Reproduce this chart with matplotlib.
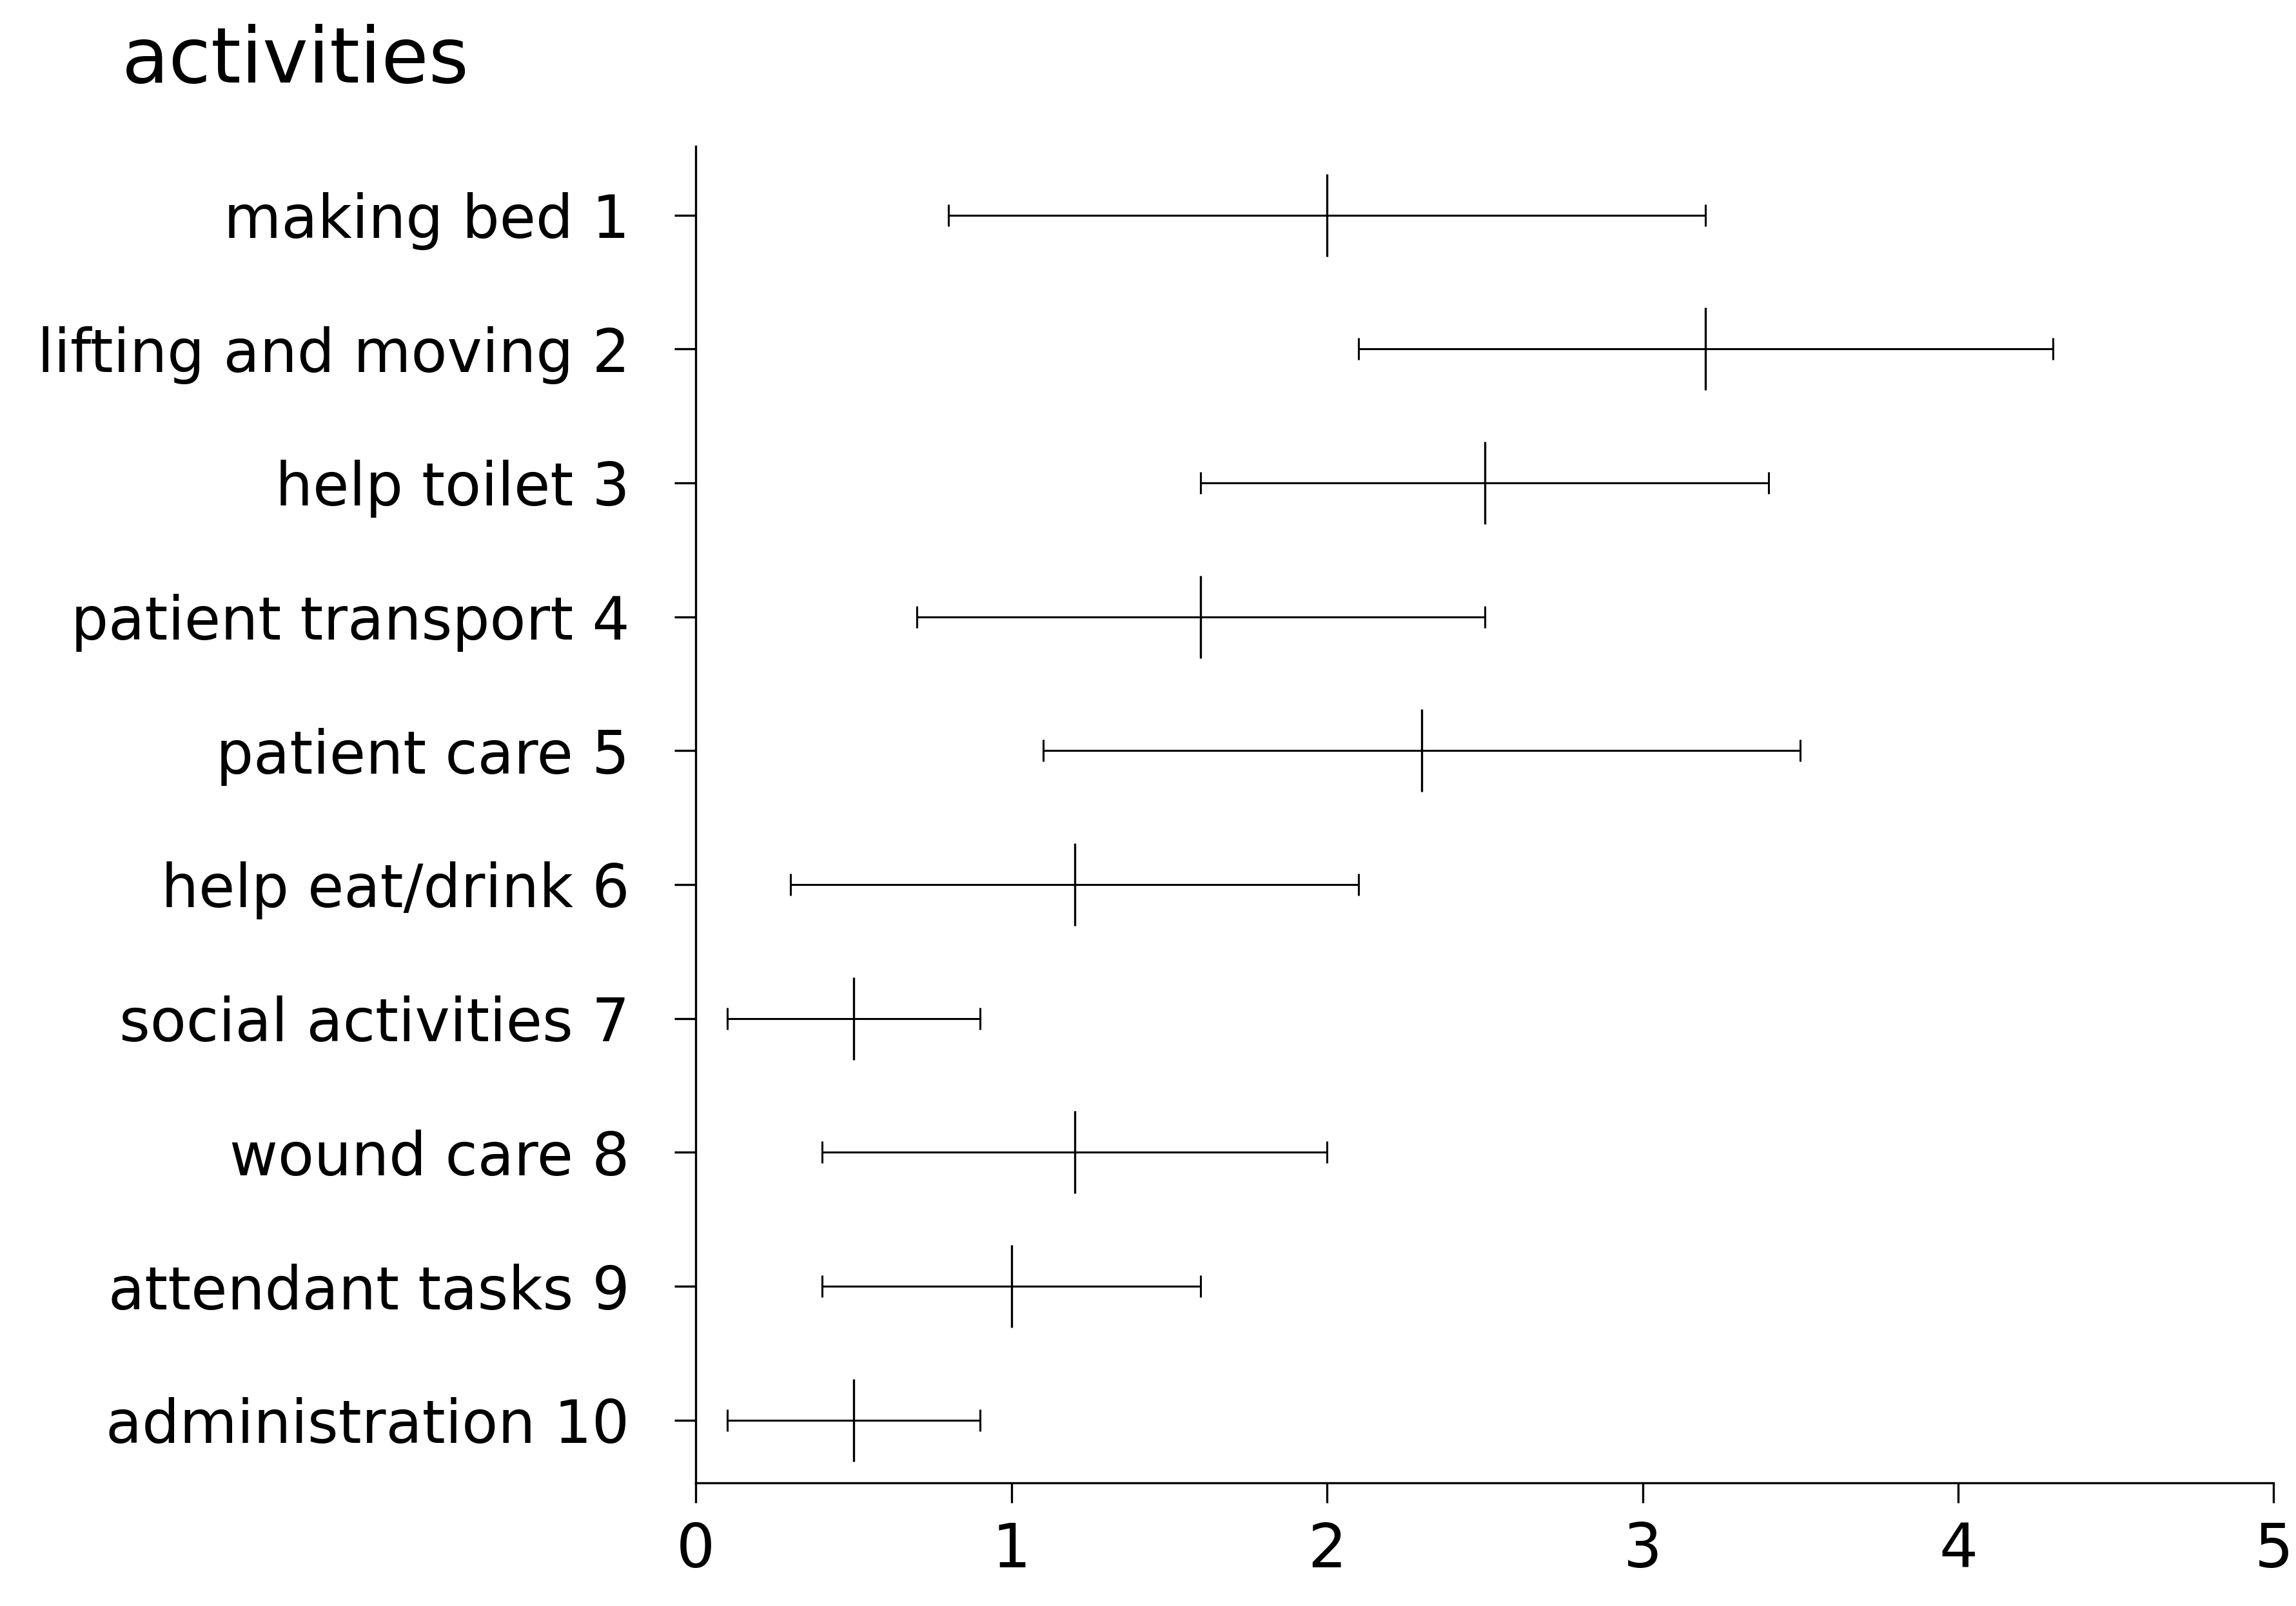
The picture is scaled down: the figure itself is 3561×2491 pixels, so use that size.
import numpy as np
from matplotlib import pyplot as plt

activities = ['making bed 1', 'lifting and moving 2', 'help toilet 3',
              'patient transport 4', 'patient care 5', 'help eat/drink 6',
              'social activities 7', 'wound care 8', 'attendant tasks 9',
              'administration 10']
means = [2.0, 3.2, 2.5, 1.6, 2.3, 1.2, 0.5, 1.2, 1.0, 0.5]
spread = [1.2, 1.1, 0.9, 0.9, 1.2, 0.9, 0.4, 0.8, 0.6, 0.4]
x_ticks = [0, 1, 2, 3, 4, 5]

plt.rcParams['font.family'] = ['DejaVu Sans']

fig = plt.figure(figsize=(35.62, 24.91), dpi=100)
ax = fig.add_axes([0.303, 0.0766, 0.687, 0.8324])

y = np.arange(1, len(activities) + 1)
ax.errorbar(means, y, xerr=spread, fmt='none', ecolor='black',
            elinewidth=2.2, capsize=12, capthick=2.2)
ax.plot(means, y, linestyle='none', marker='|', markersize=92,
        markeredgewidth=2.4, color='black')

ax.set_xlim(0, 5)
ax.set_ylim(10.47, 0.485)
ax.set_xticks(x_ticks)
ax.set_xticklabels([str(t) for t in x_ticks])
ax.set_yticks(y)
ax.set_yticklabels(activities)

for side in ['top', 'right']:
    ax.spines[side].set_visible(False)
for side in ['left', 'bottom']:
    ax.spines[side].set_linewidth(2.4)

ax.tick_params(axis='y', length=24, width=2.4, pad=50, labelsize=66)
ax.tick_params(axis='x', length=22, width=2.4, pad=20, labelsize=68)

fig.text(0.053, 0.962, 'activities', fontsize=86, ha='left', va='center')

fig.savefig('out.png', dpi=100)
